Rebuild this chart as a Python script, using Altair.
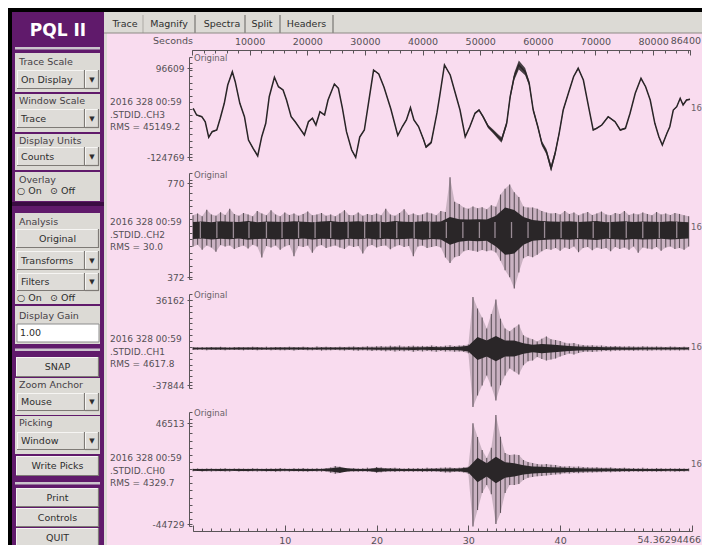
import altair as alt
import numpy as np
import pandas as pd

FONT = "DejaVu Sans"
OX, OY = 8, 8          # page margin: reference pixel -> chart pixel
W, H = 694, 537

BLACK = "#000000"
PURPLE = "#601a6b"
PURPLE_DARK = "#3a0c42"
PINK = "#f9dcef"
GRAY = "#dcdad5"
FACE = "#dedcd8"
SHADOW = "#7e7a76"
LIGHT = "#f6f5f3"
TXT = "#2e2e2e"
AXC = "#5a5458"
LBL = "#555055"
TRACE = "#2a2628"
SPIKE = "#5e525a"

# ---------------- data ----------------
# CH3 : long-period trace, time (s) and counts
CH3_T = [200, 800, 1700, 2300, 2900, 3500, 4300, 4900, 5600, 6200,
         7000, 7500, 8300, 9100, 9800, 10600, 11400, 12100, 12800, 13400,
         14300, 15000, 15800, 16400, 17200, 17900, 18700, 19500, 20200, 20900,
         21500, 22200, 23000, 23600, 24700, 25400, 26100, 26800, 27700, 28400,
         29100, 29900, 30600, 31500, 32400, 33300, 34500, 35700, 36500, 37200,
         37900, 38500, 39300, 40200, 40600, 41500, 42500, 43000, 43800, 44800,
         45600, 46500, 47400, 48200, 49100, 49800, 50500, 51400, 52300, 53100,
         53700, 54600, 55200, 55900, 56700, 57800, 58500, 59200, 60000, 60700,
         61500, 62300, 63000, 63700, 64400, 65300, 66200, 67000, 67900, 68800,
         69600, 70200, 71100, 72200, 73400, 74300, 75200, 76000, 76900, 77900,
         78700, 79500, 80300, 81000, 81600, 82400, 82900, 83500, 84100, 84700,
         85200, 85800, 86400]
CH3_V = [-3600, -20300, -24500, -37000, -75800, -61800, -57600, -28500, 8800, 54300,
         87400, 62500, 8800, -24500, -82500, -103100, -122300, -74300, -40900, 25200,
         73500, 50100, 41900, 17000, -24500, -37000, -53400, -70000, -37000, -28500,
         -45200, -12100, -20300, 17000, 56800, 46100, -3600, -61800, -107400, -125500,
         -75000, -57600, 7100, 91600, 81700, 49300, -5400, -71300, -48900, -32700,
         -2100, -32700, -48900, -82500, -99900, -88700, -15300, 29400, 104100, 79200,
         38200, -7900, -74300, -49400, -16100, -7900, -24500, -49400, -61800, -74300,
         -82500, -40900, 25200, 75000, 104100, 87400, 58600, -7900, -49400, -90700,
         -111600, -152900, -115600, -65800, -7900, 33700, 75000, 95900, 66800, 400,
         -57600, -53400, -45200, -24500, -37000, -57600, -53400, -16100, 33700, 71000,
         50100, 17000, -40900, -74300, -94900, -65800, -49400, -7900, 400, 21200,
         4600, 17000, 18800]
# half-width of the short-period jitter riding on CH3 (counts)
CH3_J = [1200, 1500, 1200, 1200, 1800, 1500, 1200, 1200, 1200, 1200,
         1500, 1200, 1200, 1200, 1500, 1500, 2000, 1500, 1200, 1200,
         1500, 1200, 1500, 1200, 1200, 1500, 1500, 1800, 1500, 1500,
         1500, 1500, 1500, 1200, 1200, 1500, 1200, 1500, 1800, 2000,
         2000, 1500, 1500, 1200, 1500, 1200, 1200, 1500, 1500, 1500,
         1500, 1500, 1500, 3000, 3000, 3000, 1500, 1200, 1500, 1500,
         1200, 1500, 2000, 2000, 2000, 2500, 3000, 4000, 5000, 6000,
         7000, 6000, 7000, 9000, 11000, 9000, 6000, 5000, 5000, 6000,
         7000, 8000, 7000, 5000, 3000, 2000, 1500, 1500, 1500, 1500,
         2000, 1800, 1500, 1500, 1800, 1800, 1800, 1500, 1200, 1500,
         1200, 1500, 1500, 1800, 1800, 1800, 1500, 1500, 1500, 1800,
         1500, 1500, 1500]

STEP = 0.5        # s, step of the peak envelopes below
CORE_STEP = 1.0   # s, step of the dense-core envelopes

CH2_BASE = 571
CH2_UP = [62, 70, 58, 86, 66, 60, 75, 64, 90, 68,
          60, 72, 66, 58, 80, 70, 62, 84, 66, 58,
          74, 64, 70, 60, 68, 78, 62, 66, 72, 60,
          66, 58, 70, 84, 64, 62, 74, 60, 68, 64,
          70, 62, 90, 66, 60, 72, 88, 64, 70, 62,
          66, 74, 70, 62, 80, 76, 223, 120, 110, 95,
          90, 100, 92, 96, 88, 105, 98, 150, 175, 193,
          160, 140, 100, 95, 95, 90, 80, 74, 70, 72,
          66, 80, 68, 74, 62, 70, 76, 64, 70, 78,
          66, 62, 72, 68, 80, 64, 70, 66, 74, 68,
          62, 76, 66, 70, 64, 72, 68, 62, 58]
CH2_DN = [70, 62, 84, 66, 74, 92, 64, 70, 66, 80,
          72, 66, 78, 62, 70, 116, 68, 74, 66, 84,
          70, 64, 111, 68, 72, 66, 96, 70, 64, 76,
          70, 66, 74, 80, 66, 72, 68, 100, 70, 64,
          74, 68, 66, 82, 70, 64, 72, 68, 111, 70,
          66, 76, 72, 68, 74, 116, 140, 115, 110, 90,
          85, 88, 92, 85, 90, 86, 95, 130, 170, 200,
          248, 180, 120, 110, 115, 105, 90, 80, 84, 76,
          88, 74, 80, 70, 94, 76, 72, 86, 74, 80,
          76, 90, 72, 80, 74, 84, 70, 96, 74, 78,
          82, 72, 88, 74, 70, 80, 76, 84, 70]
CH2_CORE_UP = [34, 36, 33, 37, 35, 34, 38, 33, 36, 35,
               34, 37, 35, 33, 36, 38, 34, 35, 37, 34,
               36, 33, 38, 35, 34, 37, 35, 36, 55, 46,
               44, 46, 44, 60, 95, 85, 55, 42, 38, 36,
               35, 37, 34, 36, 38, 33, 35, 37, 34, 36,
               35, 34, 37, 35, 33]
CH2_CORE_DN = [38, 36, 40, 37, 39, 36, 41, 38, 37, 40,
               38, 39, 36, 40, 37, 38, 41, 37, 39, 36,
               40, 37, 39, 38, 36, 41, 38, 40, 62, 50,
               46, 48, 46, 70, 105, 100, 62, 46, 42, 40,
               39, 41, 38, 40, 42, 37, 39, 41, 38, 40,
               39, 37, 40, 38, 36]
CH2_STRIPES = [0.8, 2.6, 4.4, 6.1, 8.0, 9.7, 11.5, 13.3, 15.0, 16.9,
               18.7, 20.4, 22.2, 24.1, 25.8, 27.6, 29.4, 31.2, 32.9, 34.7,
               36.5, 38.3, 40.1, 41.9, 43.6, 45.4, 47.2, 49.0, 50.8, 52.7]
CH2_STRIPE_HALF = 34

CH1_BASE = -6100
CH1_UP = [1200, 1000, 1400, 1100, 1300, 1000, 1500, 1200, 1100, 1300,
          1400, 1100, 1200, 1600, 1300, 1100, 1500, 1200, 1400, 1300,
          1200, 1500, 1300, 1100, 1600, 1400, 1200, 1700, 1300, 1500,
          1400, 1200, 1600, 1300, 1500, 1800, 1400, 1600, 2000, 1500,
          1900, 2200, 1700, 2400, 2000, 2600, 1800, 2200, 2500, 2000,
          2300, 2100, 2700, 2200, 1900, 2400, 2800, 2300, 2600, 2900,
          3500, 44900, 34800, 27000, 17400, 30000, 42700, 26000, 17400, 15000,
          18000, 21000, 11500, 9500, 8000, 6100, 8500, 10400, 8000, 7400,
          6500, 5000, 4400, 4800, 3600, 3000, 2600, 2800, 2400, 2600,
          2200, 2000, 2300, 1900, 1700, 2000, 1800, 1600, 1900, 1700,
          1500, 1800, 1600, 1400, 1700, 1500, 1300, 1600, 1400]
CH1_DN = [1300, 1100, 1200, 1400, 1000, 1300, 1200, 1500, 1100, 1200,
          1300, 1500, 1000, 1200, 1400, 1300, 1100, 1400, 1200, 1500,
          1400, 1200, 1600, 1300, 1200, 1500, 1400, 1300, 1800, 1400,
          1500, 1300, 1400, 1700, 1300, 1600, 1900, 1400, 1700, 2100,
          1800, 2000, 2300, 1900, 2600, 2100, 2400, 2000, 2700, 2200,
          2500, 2200, 2400, 2800, 2100, 2600, 2400, 2900, 2500, 3000,
          4000, 50800, 40900, 32200, 23500, 33000, 45200, 32000, 23500, 17400,
          20000, 22600, 14500, 11000, 10400, 7400, 9000, 10400, 9500, 8700,
          7000, 5600, 4400, 5200, 3800, 3000, 2800, 3000, 2600, 2400,
          2100, 2300, 1900, 2000, 1800, 1700, 2000, 1800, 1600, 1900,
          1700, 1500, 1800, 1400, 1600, 1500, 1700, 1400, 1500]
CH1_CORE = [800, 700, 900, 800, 750, 850, 800, 900, 750, 800,
            850, 800, 900, 750, 800, 850, 900, 800, 850, 900,
            1000, 950, 1100, 1000, 1200, 1100, 1300, 1200, 1300, 1500,
            2500, 10000, 7000, 11000, 7000, 7000, 4500, 3200, 4000, 3500,
            2800, 2200, 1800, 1500, 1300, 1200, 1100, 1000, 950, 900,
            900, 850, 800, 850, 800]

CH0_BASE = 4100
CH0_UP = [1100, 1300, 1000, 1400, 1200, 1000, 1300, 1500, 1100, 1200,
          1400, 1200, 1100, 1600, 1300, 1000, 1200, 1400, 1200, 1700,
          1300, 1100, 1500, 1200, 1800, 1400, 1200, 1600, 1300, 1500,
          2200, 3600, 3000, 1800, 1400, 1600, 1300, 1500, 1900, 1400,
          2700, 2200, 1500, 1700, 2000, 1600, 1400, 1800, 1500, 1700,
          1600, 1900, 1500, 1700, 2000, 2300, 2100, 1800, 2000, 2400,
          3000, 42200, 29800, 18100, 10800, 20000, 49700, 30000, 15400, 13600,
          14000, 13600, 9000, 7200, 6300, 5400, 5000, 5400, 4800, 4500,
          3600, 3200, 3400, 2900, 3100, 2600, 2400, 2200, 2500, 2000,
          1900, 2100, 1800, 1700, 2000, 1600, 1800, 1500, 1900, 1600,
          1400, 1700, 1500, 1300, 1600, 1400, 1500, 1200, 1300]
CH0_DN = [1200, 1000, 1300, 1100, 1400, 1200, 1100, 1300, 1400, 1000,
          1300, 1100, 1400, 1200, 1500, 1100, 1300, 1200, 1600, 1300,
          1200, 1400, 1100, 1500, 1300, 1700, 1200, 1400, 1500, 1300,
          2600, 3400, 2800, 1600, 1500, 1300, 1600, 1400, 1700, 1500,
          2500, 2000, 1600, 1500, 1800, 1400, 1700, 1500, 1600, 1400,
          1800, 1600, 1700, 1500, 1900, 2200, 2300, 1700, 1900, 2200,
          3500, 51200, 36100, 20800, 13600, 22000, 48800, 38800, 20800, 13600,
          13600, 12700, 9000, 7000, 6300, 5600, 5400, 5000, 4600, 4200,
          3800, 3000, 3300, 2800, 2900, 2500, 2300, 2400, 2100, 2000,
          1800, 2000, 1700, 1900, 1600, 1800, 1500, 1700, 1600, 1500,
          1500, 1600, 1400, 1500, 1300, 1600, 1400, 1300, 1200]
CH0_CORE = [800, 900, 750, 850, 800, 900, 850, 800, 900, 850,
            800, 950, 850, 900, 800, 1500, 2500, 1200, 900, 850,
            1800, 1200, 1000, 900, 950, 900, 1000, 1100, 1300, 1200,
            2200, 11000, 6000, 12000, 7000, 6000, 4200, 3200, 2800, 2500,
            2200, 1800, 1600, 1400, 1300, 1200, 1100, 1000, 950, 900,
            900, 850, 800, 850, 800]

# panel texts and axis extremes
STAMP = "2016 328 00:59"
NAMES = [".STDID..CH3", ".STDID..CH2", ".STDID..CH1", ".STDID..CH0"]
RMS = ["RMS = 45149.2", "RMS = 30.0", "RMS = 4617.8", "RMS = 4329.7"]
YMAX = [96609, 770, 36162, 46513]
YMIN = [-124769, 372, -37844, -44729]
GAIN_LABEL = "16"
DAY_SECONDS = 86400
WINDOW_SECONDS = 54.36294466
TOP_LABELS = [10000, 20000, 30000, 40000, 50000, 60000, 70000, 80000]
BOTTOM_LABELS = [10, 20, 30, 40]

TABS = ["Trace", "Magnify", "Spectra", "Split", "Headers"]

# ---------------- layout (reference pixels) ----------------
# per panel: y of max label, y of min label, axis top, axis bottom
PANEL_Y = [(68, 157, 57, 160), (183, 277, 173, 279),
           (300, 385, 294, 388), (423, 524, 412, 526)]
TEXT_Y = [102, 222, 339, 458]
ORIG_Y = [58, 175, 295, 413]
GAIN_Y = [108, 227, 347, 464]
AXIS_X = 189
TOP_AXIS_Y = 50
BOTTOM_AXIS_Y = 531

ONE = pd.DataFrame({"k": [0]})


def rect(x1, y1, x2, y2, fill, stroke=None, sw=1.0):
    kw = {"fill": fill}
    if stroke is not None:
        kw["stroke"] = stroke
        kw["strokeWidth"] = sw
    return alt.Chart(ONE).mark_rect(**kw).encode(
        x=alt.value(x1 - OX), x2=alt.value(x2 - OX),
        y=alt.value(y1 - OY), y2=alt.value(y2 - OY))


def hline(x1, x2, y, color, sw=1.0):
    return alt.Chart(ONE).mark_rule(color=color, strokeWidth=sw).encode(
        x=alt.value(x1 - OX), x2=alt.value(x2 - OX), y=alt.value(y - OY))


def vline(x, y1, y2, color, sw=1.0):
    return alt.Chart(ONE).mark_rule(color=color, strokeWidth=sw).encode(
        x=alt.value(x - OX), y=alt.value(y1 - OY), y2=alt.value(y2 - OY))


def text(x, y, s, size=9.5, color=TXT, align="left", weight="normal"):
    return alt.Chart(ONE).mark_text(
        text=s, align=align, baseline="middle", fontSize=size, color=color,
        fontWeight=weight, font=FONT).encode(x=alt.value(x - OX), y=alt.value(y - OY))


def bevel(x1, y1, x2, y2, face=FACE):
    return [rect(x1, y1, x2, y2, face),
            hline(x1, x2, y1 + 0.5, LIGHT), vline(x1 + 0.5, y1, y2, LIGHT),
            hline(x1, x2, y2 - 0.5, SHADOW, 1.2), vline(x2 - 0.5, y1, y2, SHADOW, 1.2)]


def dropdown(y1, y2, s):
    ym = (y1 + y2) / 2
    return (bevel(17, y1, 85, y2) + bevel(85, y1, 99, y2) +
            [text(21, ym, s), text(92, ym, "\u25bc", size=7, align="center")])


def button(y1, y2, s):
    return bevel(16, y1, 99, y2) + [text(57.5, (y1 + y2) / 2, s, align="center")]


def group(y1, y2, ly, title):
    return [rect(15, y1, 100, y2, GRAY), text(19, ly, title, color="#454045")]


layers = []
# window frame
layers += [rect(12, 12, 104, 548, PURPLE), rect(104, 12, 710, 33, GRAY),
           rect(104, 33, 107, 548, GRAY), rect(107, 33, 710, 548, PINK)]
# left control panel
layers += [text(58, 31, "PQL II", size=17, color="#ffffff", align="center", weight="bold"),
           rect(15, 47, 100, 49.5, "#cbc4cd")]
layers += group(53, 92, 62, "Trace Scale") + dropdown(70, 89, "On Display")
layers += group(94, 132, 101, "Window Scale") + dropdown(109, 128, "Trace")
layers += group(134, 170, 141, "Display Units") + dropdown(147, 166, "Counts")
layers += group(172, 201, 180, "Overlay") + [text(17, 191, "\u25cb On"), text(50, 191, "\u2299 Off")]
layers += [rect(12, 202, 104, 206, PURPLE_DARK)]
layers += group(213, 304, 222, "Analysis") + button(229, 248, "Original")
layers += dropdown(251, 270, "Transforms") + dropdown(273, 291, "Filters")
layers += [text(17, 298, "\u25cb On"), text(50, 298, "\u2299 Off")]
layers += group(306, 344, 316, "Display Gain")
layers += [rect(17, 324, 99, 342, "#ffffff", stroke="#8c8c8c"), text(20, 333, "1.00")]
layers += [rect(15, 348.5, 100, 351, "#cbc4cd")]
layers += button(357, 377, "SNAP")
layers += group(378, 415, 385, "Zoom Anchor") + dropdown(393, 411, "Mouse")
layers += group(416, 454, 423, "Picking") + dropdown(432, 450, "Window")
layers += button(456, 476, "Write Picks")
layers += [rect(15, 482, 100, 484.5, "#cbc4cd")]
layers += button(488, 507, "Print") + button(508, 527, "Controls") + button(528, 547, "QUIT")
# tabs
for cx, s in zip([125, 169, 222, 262, 306.5], TABS):
    layers.append(text(cx, 24, s, size=9.5, align="center"))
layers.append(vline(143, 15, 33, "#b5b2ad", 1.2))
for x in [195, 245, 280, 333]:
    layers.append(vline(x, 15, 33, "#8d8a86", 1.5))
layers.append(hline(104, 710, 33, "#8d8a86", 1.2))

# ---------------- scales & axes ----------------
X3 = alt.Scale(domain=[0, DAY_SECONDS], range=[192 - OX, 690 - OX], nice=False, zero=False)
XS = alt.Scale(domain=[0, WINDOW_SECONDS], range=[193 - OX, 692 - OX], nice=False, zero=False)

STYLE = dict(domainColor=AXC, tickColor=AXC, labelColor=LBL, labelFont=FONT,
             grid=False, labelOverlap=False, labelFlush=False, domainWidth=1,
             tickWidth=1, zindex=2)


def label_expr(vals):
    parts = ["datum.value == %s ? '%s'" % (repr(v), str(v)) for v in vals]
    return " : ".join(parts) + " : ''"


def panel_y(i):
    vmax, vmin = YMAX[i], YMIN[i]
    y_vmax, y_vmin, y_top, y_bot = PANEL_Y[i]
    k = (vmax - vmin) / (y_vmin - y_vmax)
    d_top = vmax + (y_vmax - y_top) * k
    d_bot = vmin - (y_bot - y_vmin) * k
    scale = alt.Scale(domain=[d_bot, d_top], range=[y_bot - OY, y_top - OY], nice=False, zero=False)
    # labels on the left of the axis line
    lab = alt.Axis(orient="left", offset=-(AXIS_X - OX), values=[vmin, vmax],
                   labelExpr=label_expr([vmin, vmax]), tickSize=2, labelPadding=3,
                   labelFontSize=9, domain=False, **STYLE)
    # axis line with ticks pointing into the plot
    ticks = [float(v) for v in np.linspace(d_bot, d_top, 17)] + [float(vmin), float(vmax)]
    tck = alt.Axis(orient="right", offset=(AXIS_X - OX) - W, values=ticks, labels=False,
                   tickSize=3, **STYLE)
    return scale, lab, tck


top_labels = alt.Axis(orient="top", offset=-(TOP_AXIS_Y - OY), values=TOP_LABELS,
                      labelExpr=label_expr(TOP_LABELS), tickSize=0, labelPadding=4,
                      labelFontSize=9.5, domain=False, **STYLE)
top_minor = alt.Axis(orient="bottom", offset=(TOP_AXIS_Y - OY) - H,
                     values=list(range(0, DAY_SECONDS, 2000)) + [DAY_SECONDS],
                     labels=False, tickSize=3, **STYLE)
top_major = alt.Axis(orient="bottom", offset=(TOP_AXIS_Y - OY) - H,
                     values=[0] + TOP_LABELS + [DAY_SECONDS], labels=False, tickSize=5,
                     domain=False, **STYLE)
bot_labels = alt.Axis(orient="bottom", offset=(BOTTOM_AXIS_Y - OY) - H, values=BOTTOM_LABELS,
                      labelExpr=label_expr(BOTTOM_LABELS), tickSize=0, labelPadding=4,
                      labelFontSize=9.5, domain=False, **STYLE)
bot_minor = alt.Axis(orient="top", offset=-(BOTTOM_AXIS_Y - OY), values=list(range(0, 55)),
                     labels=False, tickSize=3, **STYLE)
bot_major = alt.Axis(orient="top", offset=-(BOTTOM_AXIS_Y - OY),
                     values=[0] + BOTTOM_LABELS + [WINDOW_SECONDS],
                     labels=False, tickSize=6, domain=False, **STYLE)

# ---------------- traces ----------------
# CH3
n3 = min(len(CH3_T), len(CH3_V), len(CH3_J))
df3 = pd.DataFrame({"t": CH3_T[:n3], "v": CH3_V[:n3],
                    "lo": [v - j for v, j in zip(CH3_V[:n3], CH3_J[:n3])],
                    "hi": [v + j for v, j in zip(CH3_V[:n3], CH3_J[:n3])]})
ys3, lab3, tck3 = panel_y(0)
layers.append(alt.Chart(df3).mark_area(color=TRACE, opacity=0.85).encode(
    x=alt.X("t:Q", scale=X3, axis=top_minor, title=None),
    y=alt.Y("lo:Q", scale=ys3, axis=tck3, title=None), y2="hi:Q"))
layers.append(alt.Chart(df3).mark_line(color=TRACE, strokeWidth=1.5).encode(
    x=alt.X("t:Q", scale=X3, axis=top_labels, title=None),
    y=alt.Y("v:Q", scale=ys3, axis=lab3, title=None)))
layers.append(alt.Chart(df3).mark_line(opacity=0).encode(
    x=alt.X("t:Q", scale=X3, axis=top_major, title=None),
    y=alt.Y("v:Q", scale=ys3, axis=None)))


def noisy(base, up, dn, core_up, core_dn, i, x_env=None, x_spk=None, x_core=None):
    ys, lab, tck = panel_y(i)
    n = min(len(up), len(dn))
    env = pd.DataFrame({"t": [k * STEP for k in range(n)],
                        "hi": [base + u for u in up[:n]],
                        "lo": [base - d for d in dn[:n]]})
    m = min(len(core_up), len(core_dn))
    core = pd.DataFrame({"t": [k * CORE_STEP for k in range(m)],
                         "hi": [base + u for u in core_up[:m]],
                         "lo": [base - d for d in core_dn[:m]]})

    def xenc(ax):
        if ax is None:
            return alt.X("t:Q", scale=XS, axis=None)
        return alt.X("t:Q", scale=XS, axis=ax, title=None)

    out = [
        alt.Chart(env).mark_area(color=SPIKE, opacity=0.3).encode(
            x=xenc(x_env), y=alt.Y("lo:Q", scale=ys, axis=tck, title=None), y2="hi:Q"),
        alt.Chart(env).mark_rule(color=SPIKE, strokeWidth=1.1).encode(
            x=xenc(x_spk), y=alt.Y("lo:Q", scale=ys, axis=None), y2="hi:Q"),
        alt.Chart(core).mark_area(color=TRACE).encode(
            x=xenc(x_core), y=alt.Y("lo:Q", scale=ys, axis=lab, title=None), y2="hi:Q"),
    ]
    return out, ys


ch2_layers, ys2 = noisy(CH2_BASE, CH2_UP, CH2_DN, CH2_CORE_UP, CH2_CORE_DN, 1)
layers += ch2_layers
stripes = pd.DataFrame({"t": CH2_STRIPES,
                        "lo": [CH2_BASE - CH2_STRIPE_HALF] * len(CH2_STRIPES),
                        "hi": [CH2_BASE + CH2_STRIPE_HALF] * len(CH2_STRIPES)})
layers.append(alt.Chart(stripes).mark_rule(color="#9a8c96", strokeWidth=1.3).encode(
    x=alt.X("t:Q", scale=XS, axis=None),
    y=alt.Y("lo:Q", scale=ys2, axis=None), y2="hi:Q"))
ch1_layers, _ = noisy(CH1_BASE, CH1_UP, CH1_DN, CH1_CORE, CH1_CORE, 2)
layers += ch1_layers
ch0_layers, _ = noisy(CH0_BASE, CH0_UP, CH0_DN, CH0_CORE, CH0_CORE, 3,
                      x_env=bot_minor, x_spk=bot_major, x_core=bot_labels)
layers += ch0_layers

# ---------------- panel texts ----------------
for i in range(4):
    layers.append(text(110, TEXT_Y[i], STAMP, size=9, color=LBL))
    layers.append(text(110, TEXT_Y[i] + 12.5, NAMES[i], size=9, color=LBL))
    layers.append(text(110, TEXT_Y[i] + 24.5, RMS[i], size=9, color=LBL))
    layers.append(text(194, ORIG_Y[i], "Original", size=8.5, color="#6a6268"))
    layers.append(text(691, GAIN_Y[i], GAIN_LABEL, size=8.5, color="#6a6268"))
layers.append(text(193, 41, "Seconds", size=9.5, color=LBL, align="right"))
layers.append(text(701, 41, str(DAY_SECONDS), size=9.5, color=LBL, align="right"))
layers.append(text(701, 540, "54.36294466", size=9.5, color=LBL, align="right"))

chart = alt.layer(*layers).resolve_scale(x="independent", y="independent").properties(
    width=W, height=H, padding=0, autosize=alt.AutoSizeParams(type="none")
).configure(background=BLACK).configure_view(strokeWidth=0)

chart.save("out.html", embed_options={"renderer": "svg", "actions": False})
